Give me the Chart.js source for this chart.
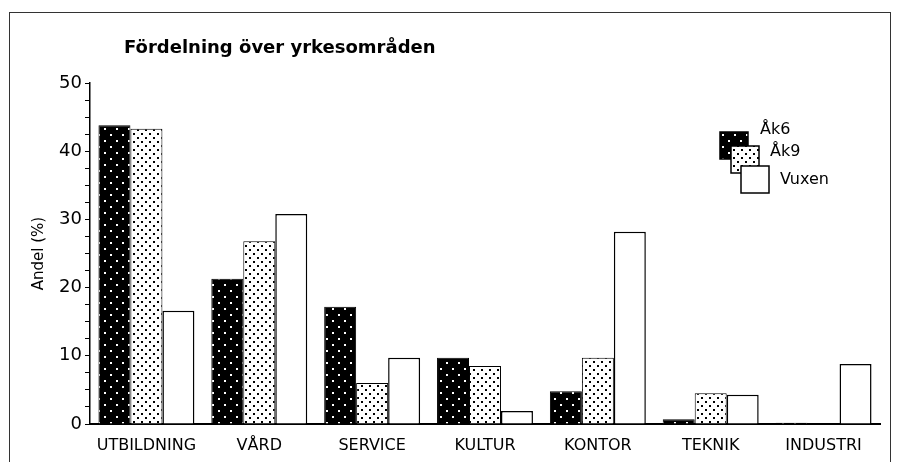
<!DOCTYPE html>
<html>
<head>
<meta charset="utf-8">
<script src="https://cdn.jsdelivr.net/npm/chart.js@4.4.0/dist/chart.umd.min.js"></script>
<style>
  body { margin: 0; background: #fff; }
  #ram { position: absolute; left: 9px; top: 12px; width: 880px; height: 470px; border: 1px solid #333; }
  #wrap { position: absolute; left: 0; top: 0; width: 899px; height: 462px; }
</style>
</head>
<body>
<div id="ram"></div>
<div id="wrap"><canvas id="grafico" width="899" height="462"></canvas></div>
<script>
var kategorier = ["UTBILDNING", "VÅRD", "SERVICE", "KULTUR", "KONTOR", "TEKNIK", "INDUSTRI"];
var ak6 = [43.8, 21.3, 17.2, 9.7, 4.8, 0.7, 0.2];
var ak9 = [43.3, 26.8, 6.0, 8.5, 9.7, 4.5, 0];
var vuxen = [16.6, 30.8, 9.7, 1.9, 28.2, 4.3, 8.8];
var serier = ["Åk6", "Åk9", "Vuxen"];
var titel = "Fördelning över yrkesområden";

function prickMonster(bg, fg, storlek, prickar, p) {
  var c = document.createElement("canvas");
  c.width = storlek;
  c.height = storlek;
  var x = c.getContext("2d");
  x.fillStyle = bg;
  x.fillRect(0, 0, storlek, storlek);
  x.fillStyle = fg;
  prickar.forEach(function (d) {
    x.fillRect(d[0], d[1], p, p);
  });
  return x.createPattern(c, "repeat");
}

const ctx = document.getElementById("grafico").getContext("2d");
var morkt = prickMonster("#000", "#fff", 12, [[2, 2], [8, 8]], 2);
var ljust = prickMonster("#fff", "#000", 8, [[1, 1], [5, 5]], 2);

// egen titel och egen legend, som i originalet
const ritaExtra = {
  id: "ritaExtra",
  afterDraw: function (chart) {
    var c = chart.ctx;
    c.save();
    c.fillStyle = "#000";
    c.textBaseline = "middle";
    c.textAlign = "left";
    c.font = "bold 18px 'DejaVu Sans'";
    c.fillText(titel, 124, 48);

    var rutor = [[720, 132], [731, 146], [741, 166]];
    var text = [[760, 130], [770, 152], [780, 180]];
    c.font = "16px 'DejaVu Sans'";
    chart.data.datasets.forEach(function (ds, i) {
      c.fillStyle = ds.backgroundColor;
      c.fillRect(rutor[i][0], rutor[i][1], 28, 27);
      c.strokeStyle = "#000";
      c.lineWidth = 1.5;
      c.strokeRect(rutor[i][0], rutor[i][1], 28, 27);
      c.fillStyle = "#000";
      c.fillText(ds.label, text[i][0], text[i][1]);
    });
    c.restore();
  },
};

const grafico = new Chart(ctx, {
  type: "bar",
  data: {
    labels: kategorier,
    datasets: [
      { label: serier[0], data: ak6, backgroundColor: morkt, borderColor: "#000", borderWidth: 1 },
      { label: serier[1], data: ak9, backgroundColor: ljust, borderColor: "#000", borderWidth: 1 },
      { label: serier[2], data: vuxen, backgroundColor: "#fff", borderColor: "#000", borderWidth: 1.5 },
    ],
  },
  options: {
    responsive: false,
    animation: false,
    layout: { padding: { left: 30, right: 19, top: 83, bottom: 0 } },
    plugins: {
      legend: { display: false },
      title: { display: false },
      tooltip: { enabled: false },
    },
    datasets: {
      bar: { categoryPercentage: 0.85, barPercentage: 1 },
    },
    scales: {
      x: {
        grid: { display: false },
        border: { color: "#000", width: 2 },
        ticks: { color: "#000", font: { family: "DejaVu Sans", size: 16 }, padding: 4, maxRotation: 0 },
        afterFit: function (s) { s.height = 38; },
      },
      y: {
        min: 0,
        max: 50,
        border: { color: "#000", width: 1.5 },
        grid: { drawOnChartArea: false, drawTicks: true, tickLength: 5, color: "#000" },
        ticks: {
          stepSize: 2.5,
          autoSkip: false,
          color: "#000",
          padding: 3,
          font: { family: "DejaVu Sans", size: 18 },
          callback: function (v) { return v % 10 === 0 ? v : ""; },
        },
        title: {
          display: true,
          text: "Andel (%)",
          color: "#000",
          font: { family: "DejaVu Sans", size: 15 },
          padding: 0,
        },
        afterFit: function (s) { s.width = 60; },
      },
    },
  },
  plugins: [ritaExtra],
});
</script>
</body>
</html>
